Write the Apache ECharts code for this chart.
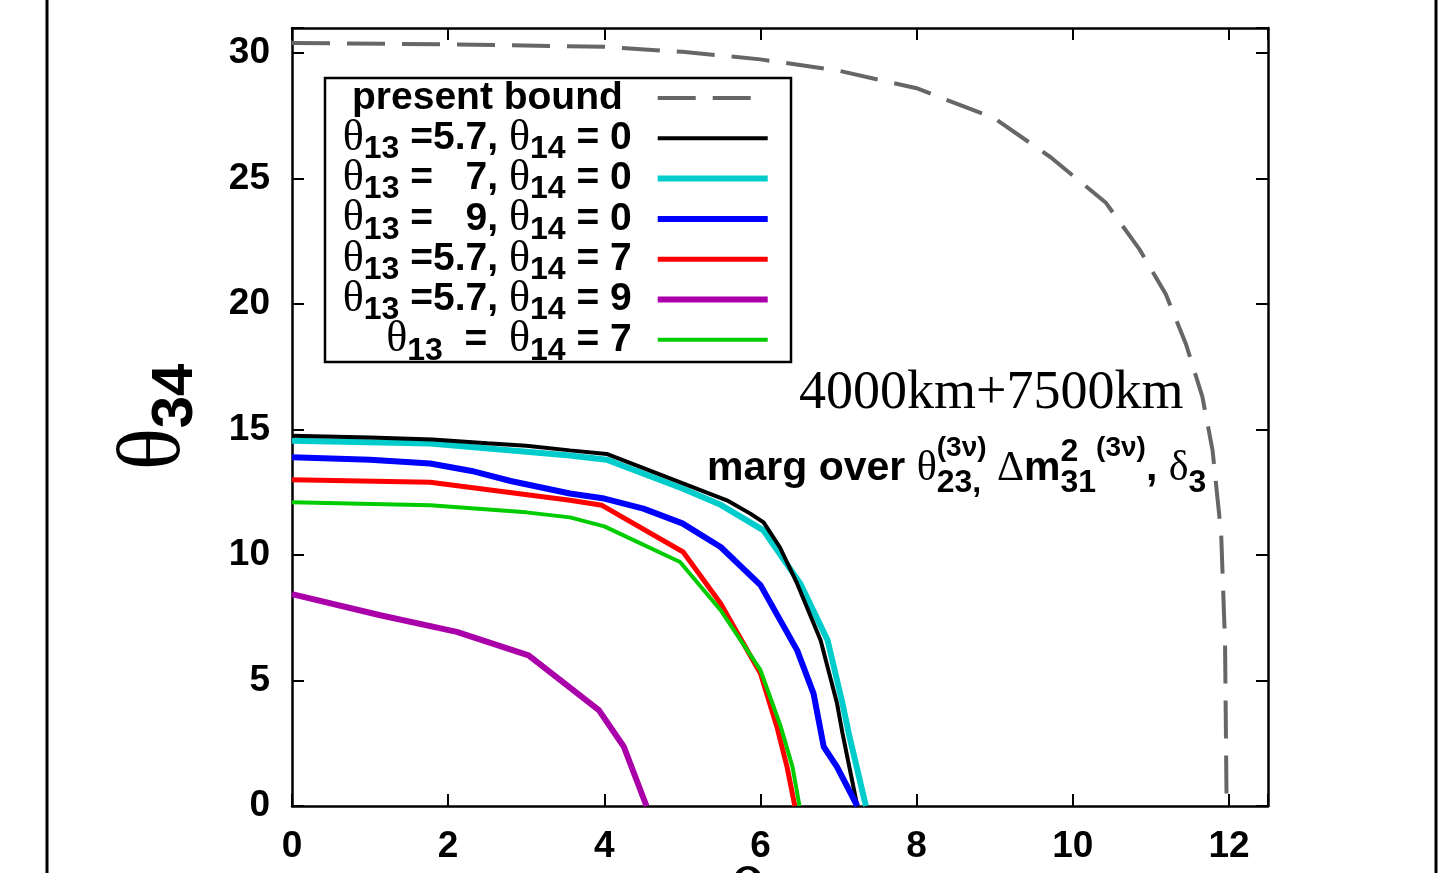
<!DOCTYPE html>
<html><head><meta charset="utf-8">
<script src="https://cdn.jsdelivr.net/npm/echarts@6/dist/echarts.min.js"></script>
<style>html,body{margin:0;padding:0;background:#fff}#c{width:1451px;height:873px}</style>
</head><body><div id="c"></div>
<script>
// ---- data ----
const xTickLabels = [0, 2, 4, 6, 8, 10, 12];
const yTickLabels = [0, 5, 10, 15, 20, 25, 30];
const presentBound = [[0,30.4],[2,30.35],[4,30.25],[5,30.05],[6,29.75],[7,29.3],[8,28.6],[9,27.4],[9.72,25.84],[10.42,24.05],[10.85,22.2],[11.19,20.4],[11.45,18.4],[11.66,16.3],[11.79,14.17],[11.9,10.85],[11.95,6.47],[11.97,0]];
const s13_57_14_0 = [[0,14.75],[1,14.68],[1.8,14.6],[2.5,14.45],[3.0,14.35],[3.56,14.17],[4.03,14.03],[4.8,13.1],[5.57,12.18],[5.87,11.65],[6.04,11.3],[6.25,10.3],[6.47,8.86],[6.77,6.6],[6.98,4.09],[7.05,2.9],[7.24,0]];
const s13_7_14_0 = [[0,14.55],[1.77,14.44],[3.56,13.97],[4.03,13.8],[5.0,12.65],[5.49,12.0],[6.04,10.98],[6.51,8.86],[6.86,6.6],[7.05,4.09],[7.13,2.9],[7.35,0]];
const s13_9_14_0 = [[0,13.9],[1,13.8],[1.77,13.65],[2.3,13.35],[2.8,12.95],[3.56,12.45],[4.0,12.25],[4.5,11.85],[5.0,11.26],[5.49,10.32],[6.0,8.8],[6.47,6.2],[6.68,4.48],[6.81,2.36],[6.98,1.56],[7.24,0]];
const s13_57_14_7 = [[0,13.0],[1.77,12.9],[3.56,12.18],[3.97,11.98],[5.01,10.12],[5.49,8.07],[6.0,5.28],[6.21,3.16],[6.34,1.56],[6.44,0]];
const s13_57_14_9 = [[0,8.44],[1.13,7.6],[2.11,6.94],[3.03,6.0],[3.93,3.82],[4.25,2.36],[4.54,0]];
const s13_7_14_7 = [[0,12.1],[1.77,11.98],[3.0,11.7],[3.56,11.5],[4.0,11.14],[4.97,9.72],[5.49,7.8],[6.0,5.41],[6.26,3.16],[6.41,1.56],[6.5,0]];

const SANS = "'Liberation Sans', Arial, sans-serif";
const SERIF = "'Liberation Serif', 'Times New Roman', serif";

const legendText = {
  pb: '{g| }{t|present bound}{s| }{e| }',
  k:  '{g|θ}{s|13}{t| =5.7, }{g|θ}{s|14}{t| = 0}{e| }',
  c:  '{g|θ}{s|13}{t| =   7, }{g|θ}{s|14}{t| = 0}{e| }',
  b:  '{g|θ}{s|13}{t| =   9, }{g|θ}{s|14}{t| = 0}{e| }',
  r:  '{g|θ}{s|13}{t| =5.7, }{g|θ}{s|14}{t| = 7}{e| }',
  p:  '{g|θ}{s|13}{t| =5.7, }{g|θ}{s|14}{t| = 9}{e| }',
  g:  '{g|θ}{s|13}{t|  =  }{g|θ}{s|14}{t| = 7}{e| }'
};

// ---- annotation layout (text only) ----
const ctx = document.createElement('canvas').getContext('2d');
function tw(t, font){ ctx.font = font; return ctx.measureText(t).width; }
const B41 = 'bold 41px ' + SANS, S41 = '42px ' + SERIF, B32 = 'bold 32px ' + SANS, B28 = 'bold 28px ' + SANS;
const annoGroups = [
  [{t:'marg over ', f:B41, y:469}],
  [{t:'θ', f:S41, y:469}],
  [{t:'(3ν)', f:B28, y:448}, {t:'23,', f:B32, y:483}],
  [{t:' Δ', f:S41, y:469}],
  [{t:'m', f:B41, y:469}],
  [{t:'2', f:B32, y:452}, {t:'31', f:B32, y:483}],
  [{t:'(3ν)', f:B28, y:448}],
  [{t:', ', f:B41, y:469}],
  [{t:'δ', f:S41, y:469}],
  [{t:'3', f:B32, y:483}]
];
const graphics = [
  {type:'line', shape:{x1:47,y1:0,x2:47,y2:873}, style:{stroke:'#000', lineWidth:3}},
  {type:'line', shape:{x1:1436,y1:0,x2:1436,y2:873}, style:{stroke:'#000', lineWidth:3}},
  {type:'rect', shape:{x:325,y:78,width:466,height:284}, style:{stroke:'#000', fill:null, lineWidth:2.5}},
  {type:'text', x:799, y:394, style:{text:'4000km+7500km', font:'54px ' + SERIF, fill:'#000', verticalAlign:'middle', textVerticalAlign:'middle', align:'left', textAlign:'left'}}
];
let cx = 707;
annoGroups.forEach(g => {
  let mw = 0;
  g.forEach(p => {
    graphics.push({type:'text', x:cx, y:p.y, style:{text:p.t, font:p.f, fill:'#000', verticalAlign:'middle', textVerticalAlign:'middle', align:'left', textAlign:'left'}});
    mw = Math.max(mw, tw(p.t, p.f));
  });
  cx += mw;
});

const chart = echarts.init(document.getElementById('c'), null, {renderer:'canvas'});
const axisCommon = {
  type:'value', splitLine:{show:false},
  axisLine:{show:true, onZero:false, lineStyle:{color:'#000', width:2.5}},
  axisTick:{show:true, inside:true, length:12, lineStyle:{color:'#000', width:2}}
};
function mkSeries(name, data, color, width, z, type){
  return {name, type:'line', data, symbol:'none', showSymbol:false, z, clip:true,
    lineStyle:{color, width, type:type||'solid'}, itemStyle:{color}};
}
const nameRich = {
  t:{fontFamily:SERIF, fontSize:88, color:'#000'},
  s:{fontFamily:SANS, fontWeight:'bold', fontSize:58, padding:[40,0,0,0], color:'#000'}
};
chart.setOption({
  animation:false,
  grid:{left:292, right:183, top:28, bottom:67, containLabel:false, outerBoundsMode:'none'},
  xAxis:[
    Object.assign({}, axisCommon, {position:'bottom', min:0, max:12.5, interval:2,
      axisLabel:{show:true, margin:22, color:'#000', fontFamily:SANS, fontWeight:'bold', fontSize:37,
        formatter: v => xTickLabels.includes(v) ? String(v) : ''},
      name:'{t|θ}{s|14}', nameLocation:'middle', nameGap:51, nameMoveOverlap:false,
      nameTextStyle:{rich:nameRich}}),
    Object.assign({}, axisCommon, {position:'top', min:0, max:12.5, interval:2, axisLabel:{show:false}})
  ],
  yAxis:[
    Object.assign({}, axisCommon, {position:'left', min:0, max:31, interval:5,
      axisLabel:{show:true, margin:22, color:'#000', fontFamily:SANS, fontWeight:'bold', fontSize:37,
        formatter: v => yTickLabels.includes(v) ? String(v) : ''},
      name:'{t|θ}{s|34}', nameLocation:'middle', nameGap:87, nameRotate:90, nameMoveOverlap:false,
      nameTextStyle:{rich:nameRich}}),
    Object.assign({}, axisCommon, {position:'right', min:0, max:31, interval:5, axisLabel:{show:false}})
  ],
  legend:{
    orient:'vertical', left:341, top:71, align:'right', selectedMode:false,
    padding:0, itemGap:-13.7, itemWidth:110, itemHeight:14,
    borderWidth:0, backgroundColor:'transparent',
    itemStyle:{opacity:0},
    lineStyle:{width:'inherit'},
    data:['pb','k','c','b','r','p','g'],
    formatter: n => legendText[n],
    textStyle:{width:290, color:'#000',
      rich:{
        t:{fontFamily:SANS, fontWeight:'bold', fontSize:39, lineHeight:38, color:'#000'},
        g:{fontFamily:SERIF, fontSize:44, lineHeight:38, color:'#000'},
        s:{fontFamily:SANS, fontWeight:'bold', fontSize:32, lineHeight:16, padding:[22,0,0,0], color:'#000'},
        e:{fontFamily:SANS, fontSize:39, width:21, lineHeight:38}
      }}
  },
  graphic: graphics,
  series:[
    mkSeries('pb', presentBound, '#666666', 4, 2, [38,17]),
    mkSeries('c', s13_7_14_0, '#00cccc', 6, 3),
    mkSeries('k', s13_57_14_0, '#000000', 4, 4),
    mkSeries('b', s13_9_14_0, '#0000ff', 6, 5),
    mkSeries('r', s13_57_14_7, '#ff0000', 5, 6),
    mkSeries('g', s13_7_14_7, '#00cc00', 4, 7),
    mkSeries('p', s13_57_14_9, '#aa00aa', 6, 8)
  ]
});
</script></body></html>
